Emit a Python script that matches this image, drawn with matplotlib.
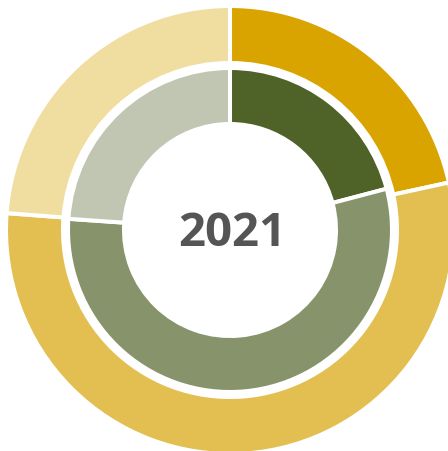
import matplotlib.pyplot as plt

# outer ring shares (clockwise from 12 o'clock)
outer_vals = [21.6, 54.6, 23.8]
outer_cols = ['#D9A400', '#E3BF52', '#F0DDA0']
# inner ring shares
inner_vals = [20.9, 55.2, 23.9]
inner_cols = ['#4F6228', '#87936A', '#C0C6B1']
center_label = '2021'

fig = plt.figure(figsize=(4.48, 4.51), dpi=100)
ax = fig.add_axes([0, 0, 1, 1])

R = 224 / 222
ax.pie(outer_vals, radius=R, colors=outer_cols, startangle=90, counterclock=False,
       wedgeprops=dict(width=(224 - 167) / 222, edgecolor='white', linewidth=2.9))
ax.pie(inner_vals, radius=162 / 222, colors=inner_cols, startangle=90, counterclock=False,
       wedgeprops=dict(width=(162 - 106) / 222, edgecolor='white', linewidth=2.9))

ax.text(0.01, -0.015, center_label, ha='center', va='center', fontsize=34,
        fontweight='bold', color='#555555', family='Open Sans')

ax.set_aspect('auto')
ax.set_xlim(-230 / 222, 218 / 222)
ax.set_ylim(-221 / 222, 230 / 222)
ax.axis('off')

fig.savefig('out.png', dpi=100)
